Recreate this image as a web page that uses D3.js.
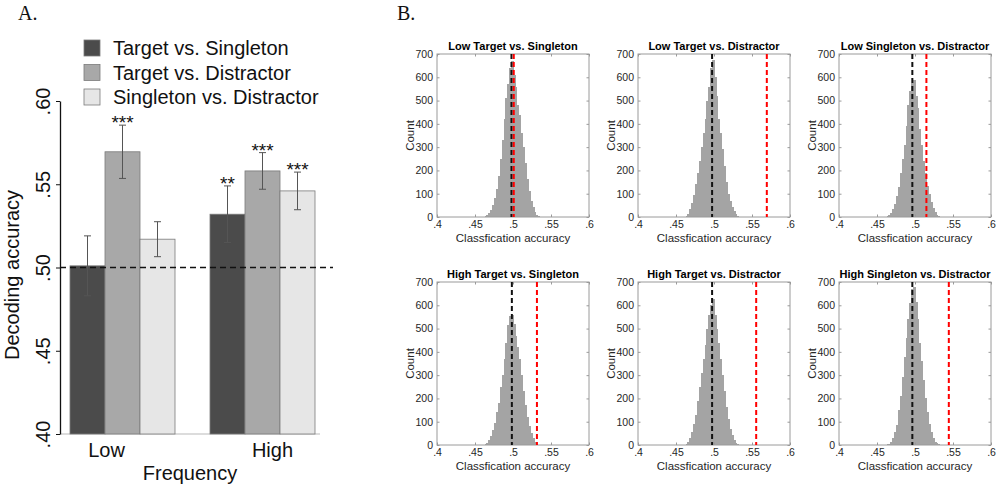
<!DOCTYPE html>
<html>
<head>
<meta charset="utf-8">
<script src="https://cdn.jsdelivr.net/npm/d3@7"></script>
<style>
  html, body { margin: 0; padding: 0; background: #fff; }
  svg { display: block; }
</style>
</head>
<body>
<svg id="chart" width="1001" height="486"></svg>
<script>
// ---------------- Panel A data ----------------
const groups = ["Low", "High"];
const seriesNames = ["Target vs. Singleton", "Target vs. Distractor", "Singleton vs. Distractor"];
const lowMeans = [0.501, 0.5695, 0.517];
const highMeans = [0.532, 0.558, 0.546];
const lowErr = [0.018, 0.016, 0.0105];
const highErr = [0.017, 0.011, 0.0113];
const lowStars = ["", "***", ""];
const highStars = ["**", "***", "***"];
const yTicksA = [0.40, 0.45, 0.50, 0.55, 0.60];
const yTickLabelsA = [".40", ".45", ".50", ".55", ".60"];
const chanceLevel = 0.50;

// ---------------- Panel B data ----------------
const histTitles = [
  "Low Target vs. Singleton", "Low Target vs. Distractor", "Low Singleton vs. Distractor",
  "High Target vs. Singleton", "High Target vs. Distractor", "High Singleton vs. Distractor"
];
const binStart = 0.46;
const binWidth = 0.0025;
const countsLowTS  = [2,5,10,18,30,50,80,120,175,250,330,420,510,570,640,670,610,560,480,440,360,300,230,165,110,70,45,22,10,4];
const countsLowTD  = [2,6,15,35,60,95,140,190,240,300,360,420,500,560,640,675,600,520,420,360,290,220,150,100,70,45,25,12,6,2];
const countsLowSD  = [1,3,8,18,35,55,90,130,190,250,310,390,480,540,575,590,520,470,380,310,240,190,135,100,65,40,22,10,5,2];
const countsHighTS = [1,3,8,20,40,65,95,140,180,250,300,370,440,515,555,560,520,470,420,370,300,230,170,120,80,50,28,14,6,2];
const countsHighTD = [1,4,12,30,55,90,130,190,250,310,370,430,500,560,600,625,560,500,440,370,300,230,165,110,70,45,22,10,4,1];
const countsHighSD = [1,3,6,15,30,55,85,150,210,290,380,460,540,610,670,680,615,540,440,360,280,200,140,90,55,30,15,7,3,1];
const nullMeans = [0.498, 0.4975, 0.4965, 0.4985, 0.4975, 0.4965];
const observedAcc = [0.501, 0.5695, 0.515, 0.5315, 0.5555, 0.5445];
const histXTicks = [0.4, 0.45, 0.5, 0.55, 0.6];
const histXTickLabels = [".4", ".45", ".5", ".55", ".6"];
const histYTicks = [0, 100, 200, 300, 400, 500, 600, 700];

const allCounts = [countsLowTS, countsLowTD, countsLowSD, countsHighTS, countsHighTD, countsHighSD];

const svg = d3.select("#chart");
const sans = "'Liberation Sans', Arial, Helvetica, sans-serif";
const serif = "'Liberation Serif', 'Times New Roman', serif";

// ================= Panel A =================
const A = svg.append("g");
const barColors = ["#4b4b4b", "#a8a8a8", "#e6e6e6"];
const yA = d3.scaleLinear().domain([0.40, 0.60]).range([434, 101]);
const x0 = d3.scaleBand().domain(groups).range([70, 315]).paddingInner(0.25).paddingOuter(0);
const x1 = d3.scaleBand().domain(seriesNames).range([0, x0.bandwidth()]).padding(0);

const meansBy = { Low: lowMeans, High: highMeans };
const errBy = { Low: lowErr, High: highErr };
const starsBy = { Low: lowStars, High: highStars };

// bottom axis (light gray)
A.append("line").attr("x1", 60).attr("x2", 320).attr("y1", yA(0.40)).attr("y2", yA(0.40))
  .attr("stroke", "#d0d0d0").attr("stroke-width", 1.5);

groups.forEach(g => {
  seriesNames.forEach((s, i) => {
    const v = meansBy[g][i];
    const bx = x0(g) + x1(s);
    A.append("rect").attr("x", bx).attr("y", yA(v)).attr("width", x1.bandwidth())
      .attr("height", yA(0.40) - yA(v)).attr("fill", barColors[i])
      .attr("stroke", "#7a7a7a").attr("stroke-width", 0.8);
  });
});

// chance line
A.append("line").attr("x1", 60).attr("x2", 333).attr("y1", yA(chanceLevel)).attr("y2", yA(chanceLevel))
  .attr("stroke", "#111").attr("stroke-width", 1.6).attr("stroke-dasharray", "6,4");

// error bars + stars
groups.forEach(g => {
  seriesNames.forEach((s, i) => {
    const v = meansBy[g][i], e = errBy[g][i];
    const cx = x0(g) + x1(s) + x1.bandwidth() / 2;
    const col = "#555";
    A.append("line").attr("x1", cx).attr("x2", cx).attr("y1", yA(v - e)).attr("y2", yA(v + e))
      .attr("stroke", col).attr("stroke-width", 1);
    [v - e, v + e].forEach(t => {
      A.append("line").attr("x1", cx - 3.5).attr("x2", cx + 3.5).attr("y1", yA(t)).attr("y2", yA(t))
        .attr("stroke", col).attr("stroke-width", 1);
    });
    const st = starsBy[g][i];
    if (st) {
      A.append("text").attr("x", cx).attr("y", yA(v + e) + 4).attr("text-anchor", "middle")
        .attr("font-family", sans).attr("font-size", 19).attr("fill", "#111").text(st);
    }
  });
});

// y axis
const yAxisA = d3.axisLeft(yA).tickValues(yTicksA).tickFormat((d, i) => yTickLabelsA[i]).tickSize(4).tickSizeOuter(0);
const yg = A.append("g").attr("transform", "translate(60,0)").call(yAxisA);
yg.select(".domain").attr("stroke", "#111").attr("stroke-width", 1.3);
yg.selectAll(".tick line").attr("stroke", "#111");
yg.selectAll(".tick text").attr("x", null).attr("dy", null)
  .attr("transform", "translate(-17,0) rotate(-90)")
  .attr("text-anchor", "middle").attr("dominant-baseline", "central")
  .attr("font-family", sans).attr("font-size", 20).attr("fill", "#111");

// axis titles
A.append("text").attr("transform", "translate(19,275) rotate(-90)").attr("text-anchor", "middle")
  .attr("font-family", sans).attr("font-size", 20).attr("fill", "#111").text("Decoding accuracy");
const groupLabelOffset = { Low: -16, High: 10 };
groups.forEach(g => {
  A.append("text").attr("x", x0(g) + x0.bandwidth() / 2 + groupLabelOffset[g]).attr("y", 457)
    .attr("text-anchor", "middle").attr("font-family", sans).attr("font-size", 20).attr("fill", "#111").text(g);
});
A.append("text").attr("x", 190).attr("y", 480).attr("text-anchor", "middle")
  .attr("font-family", sans).attr("font-size", 20).attr("fill", "#111").text("Frequency");

// legend
seriesNames.forEach((s, i) => {
  const cy = 48 + i * 24.5;
  A.append("rect").attr("x", 84).attr("y", cy - 8).attr("width", 16).attr("height", 16)
    .attr("fill", barColors[i]).attr("stroke", "#7a7a7a").attr("stroke-width", 0.8);
  A.append("text").attr("x", 113).attr("y", cy).attr("dominant-baseline", "central")
    .attr("font-family", sans).attr("font-size", 20).attr("fill", "#111").text(s);
});

// panel letters
svg.append("text").attr("x", 18).attr("y", 20).attr("font-family", serif).attr("font-size", 20).attr("fill", "#111").text("A.");
svg.append("text").attr("x", 397).attr("y", 20).attr("font-family", serif).attr("font-size", 20).attr("fill", "#111").text("B.");

// ================= Panel B =================
const colX = [437, 638, 839];
const rowY = [54, 282];
const pw = 152, ph = 163;
const tickCol = "#262626";

allCounts.forEach((counts, k) => {
  const ox = colX[k % 3], oy = rowY[Math.floor(k / 3)];
  const g = svg.append("g").attr("transform", `translate(${ox},${oy})`);
  const x = d3.scaleLinear().domain([0.4, 0.6]).range([0, pw]);
  const y = d3.scaleLinear().domain([0, 700]).range([ph, 0]);

  // bars
  g.selectAll("rect.bin").data(counts).enter().append("rect")
    .attr("x", (d, i) => x(binStart + i * binWidth))
    .attr("width", (d, i) => x(binStart + (i + 1) * binWidth) - x(binStart + i * binWidth) + 0.6)
    .attr("y", d => y(d)).attr("height", d => ph - y(d))
    .attr("fill", "#a4a4a4").attr("shape-rendering", "crispEdges");

  // box
  g.append("rect").attr("x", 0).attr("y", 0).attr("width", pw).attr("height", ph)
    .attr("fill", "none").attr("stroke", "#9a9a9a").attr("stroke-width", 1);

  // axes
  const xa = g.append("g").attr("transform", `translate(0,${ph})`)
    .call(d3.axisBottom(x).tickValues(histXTicks).tickFormat((d, i) => histXTickLabels[i]).tickSize(-2.5).tickPadding(4));
  const ya = g.append("g")
    .call(d3.axisLeft(y).tickValues(histYTicks).tickSize(-2.5).tickPadding(4));
  [xa, ya].forEach(a => {
    a.select(".domain").remove();
    a.selectAll(".tick line").attr("stroke", "#9a9a9a");
    a.selectAll(".tick text").attr("font-family", sans).attr("font-size", 10.5).attr("fill", tickCol);
  });
  // top/right ticks
  const xt = g.append("g").call(d3.axisTop(x).tickValues(histXTicks).tickSize(-2.5).tickFormat(""));
  const yt = g.append("g").attr("transform", `translate(${pw},0)`).call(d3.axisRight(y).tickValues(histYTicks).tickSize(-2.5).tickFormat(""));
  [xt, yt].forEach(a => { a.select(".domain").remove(); a.selectAll(".tick line").attr("stroke", "#9a9a9a"); });

  // dashed lines
  g.append("line").attr("x1", x(nullMeans[k])).attr("x2", x(nullMeans[k])).attr("y1", 0).attr("y2", ph)
    .attr("stroke", "#111").attr("stroke-width", 2).attr("stroke-dasharray", "5,3");
  g.append("line").attr("x1", x(observedAcc[k])).attr("x2", x(observedAcc[k])).attr("y1", 0).attr("y2", ph)
    .attr("stroke", "#ff0000").attr("stroke-width", 2).attr("stroke-dasharray", "5,3");

  // labels
  g.append("text").attr("x", pw / 2).attr("y", -4).attr("text-anchor", "middle")
    .attr("font-family", sans).attr("font-size", 11).attr("font-weight", "bold").attr("fill", "#000").text(histTitles[k]);
  g.append("text").attr("x", pw / 2).attr("y", ph + 25).attr("text-anchor", "middle")
    .attr("font-family", sans).attr("font-size", 11.5).attr("fill", tickCol).text("Classfication accuracy");
  g.append("text").attr("transform", `translate(-23,${ph / 2}) rotate(-90)`).attr("text-anchor", "middle")
    .attr("font-family", sans).attr("font-size", 11.5).attr("fill", tickCol).text("Count");
});
</script>
</body>
</html>
